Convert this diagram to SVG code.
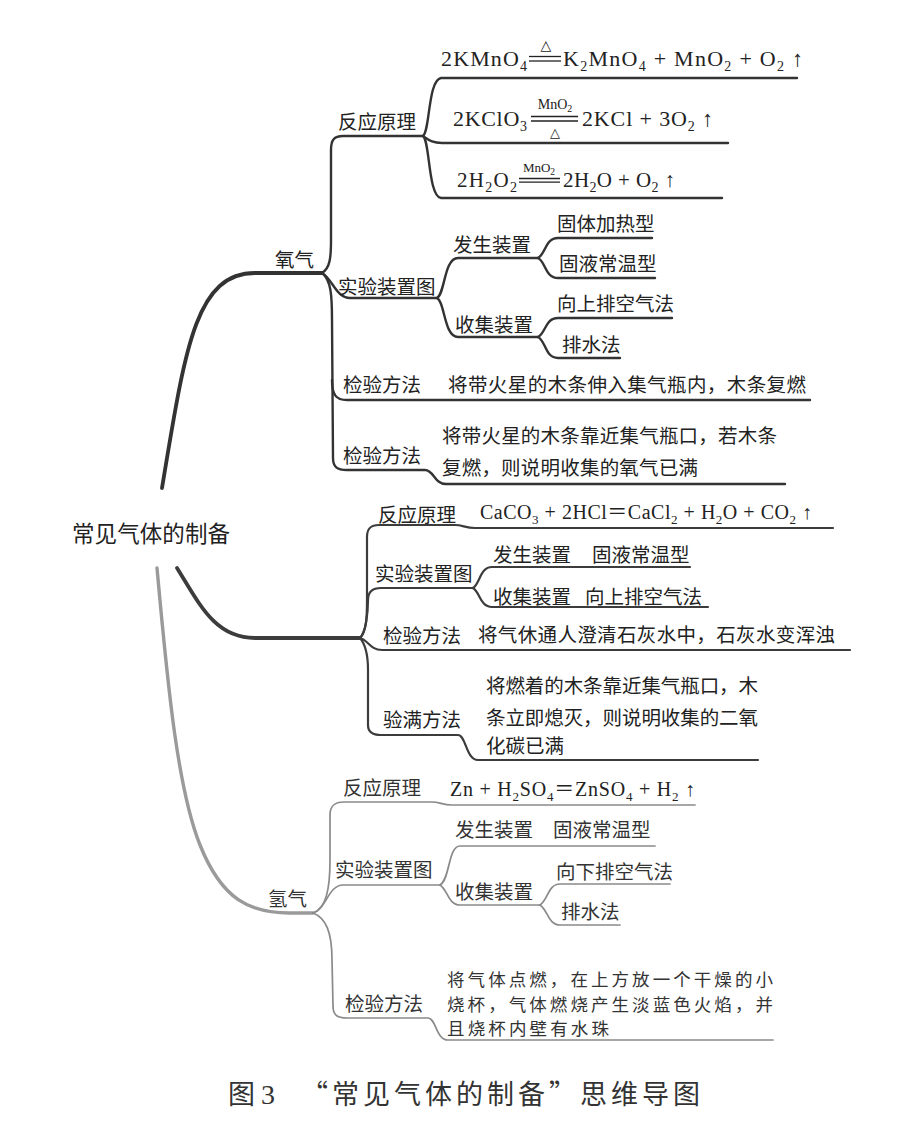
<svg xmlns="http://www.w3.org/2000/svg" width="906" height="1127" viewBox="0 0 906 1127">
<style>
.o{stroke:#333;stroke-width:2.4;fill:none;stroke-linecap:round}
.om{stroke:#333;stroke-width:3.8;fill:none;stroke-linecap:round}
.c{stroke:#3c3c3c;stroke-width:2.2;fill:none;stroke-linecap:round}
.cm{stroke:#3c3c3c;stroke-width:3.8;fill:none;stroke-linecap:round}
.h{stroke:#8a8a8a;stroke-width:1.7;fill:none;stroke-linecap:round}
.hm{stroke:#9a9a9a;stroke-width:3.4;fill:none;stroke-linecap:round}
.eq{stroke:#222;stroke-width:1.3}
.t{font-family:"Noto Sans CJK SC","Noto Sans CJK JP",sans-serif;font-size:19.5px;fill:#222}
.th{font-family:"Noto Sans CJK SC","Noto Sans CJK JP",sans-serif;font-size:19.5px;fill:#333}
.f{font-family:"Liberation Serif","Noto Sans CJK SC",serif;font-size:22px;fill:#222}
.s{font-size:14px}
.cond{font-family:"Liberation Serif","DejaVu Sans",serif;font-size:14px;fill:#222}
.tri{font-family:"DejaVu Sans",sans-serif;font-size:14px;fill:#222}
</style>
<rect width="906" height="1127" fill="#fff"/>

<g id="connectors">
  <!-- oxygen -->
  <path class="om" d="M162,488 C185,350 195,273 255,273 L322,273"/>
  <path class="o" d="M322,273 C330,268 331,258 331,240 L331,150 C331,140 334,136 343,136 L423,136"/>
  <path class="o" d="M423,136 C430,131 428,80 441,78 L797,78"/>
  <path class="o" d="M423,136 C429,140 432,143 442,143 L728,143"/>
  <path class="o" d="M423,136 C430,141 428,196 441,198 L722,198"/>
  <path class="o" d="M322,273 C332,278 336,298 350,298 L437,298"/>
  <path class="o" d="M437,298 C445,294 444,258 458,258 L538,258"/>
  <path class="o" d="M437,298 C445,302 444,337 458,337 L538,337"/>
  <path class="o" d="M538,258 C546,254 545,238 558,238 L652,238"/>
  <path class="o" d="M538,258 C546,262 545,278 558,278 L655,278"/>
  <path class="o" d="M538,337 C546,333 545,318 558,318 L672,318"/>
  <path class="o" d="M538,337 C546,341 545,358 558,358 L620,358"/>
  <path class="o" d="M322,273 C331,280 332,295 332,320 L333,458 C333,467 337,470 347,470 L425,470 C434,470 434,484 446,484 L785,484"/>
  <path class="o" d="M332,380 C332,395 336,400 347,400 L810,400"/>
  <!-- carbon dioxide -->
  <path class="cm" d="M177,568 C200,605 215,638 255,638 L360,638"/>
  <path class="c" d="M360,638 C366,632 367,620 367,600 L367,537 C367,529 370,525 379,525 L455,525 C463,525 465,528 475,528 L833,528"/>
  <path class="c" d="M360,638 C366,632 368,612 368,600 C368,592 372,588 381,588 L473,588"/>
  <path class="c" d="M473,588 C480,584 480,567 492,567 L690,567"/>
  <path class="c" d="M473,588 C480,592 480,607 492,607 L708,607"/>
  <path class="c" d="M360,638 C368,640 370,650 382,650 L850,650"/>
  <path class="c" d="M360,638 C366,645 368,655 368,670 L368,725 C368,732 372,735 381,735 L458,735 C466,735 466,760 478,760 L758,760"/>
  <!-- hydrogen -->
  <path class="hm" d="M157,568 C168,690 178,790 200,845 C222,900 250,913 290,913 L313,913"/>
  <path class="h" d="M313,913 C326,908 330,890 330,860 L330,815 C330,806 334,802 344,802 L432,802 C440,802 442,805 452,805 L695,805"/>
  <path class="h" d="M313,913 C326,910 328,885 343,885 L440,885"/>
  <path class="h" d="M440,885 C450,880 448,846 460,846 L655,846"/>
  <path class="h" d="M440,885 C448,890 448,905 460,905 L540,905"/>
  <path class="h" d="M540,905 C548,900 548,884 560,884 L670,884"/>
  <path class="h" d="M540,905 C548,910 548,925 560,925 L620,925"/>
  <path class="h" d="M313,913 C326,918 332,932 332,960 L333,1006 C333,1015 337,1018 347,1018 L428,1018 C436,1018 436,1040 448,1040 L773,1040"/>
</g>

<g id="root"><text class="t" x="72" y="542" style="font-size:22.5px" textLength="158">常见气体的制备</text></g>

<g id="o2"><text class="t" x="275" y="267">氧气</text></g>
<g id="o2-principle"><text class="t" x="338" y="129">反应原理</text></g>
<g id="o2-eq1">
  <text class="f" x="441" y="66" textLength="86">2KMnO<tspan class="s" dy="5">4</tspan></text>
  <line class="eq" x1="529" y1="56.5" x2="561" y2="56.5"/>
  <line class="eq" x1="529" y1="61" x2="561" y2="61"/>
  <text class="tri" x="546" y="50" text-anchor="middle">△</text>
  <text class="f" x="563" y="66" textLength="240">K<tspan class="s" dy="5">2</tspan><tspan dy="-5">MnO</tspan><tspan class="s" dy="5">4</tspan><tspan dy="-5"> + MnO</tspan><tspan class="s" dy="5">2</tspan><tspan dy="-5"> + O</tspan><tspan class="s" dy="5">2</tspan><tspan dy="-5"> ↑</tspan></text>
</g>
<g id="o2-eq2">
  <text class="f" x="453" y="126" textLength="74">2KClO<tspan class="s" dy="5">3</tspan></text>
  <line class="eq" x1="531" y1="116.5" x2="578" y2="116.5"/>
  <line class="eq" x1="531" y1="121" x2="578" y2="121"/>
  <text class="cond" x="555" y="109" text-anchor="middle">MnO<tspan style="font-size:10px" dy="3">2</tspan></text>
  <text class="tri" x="555" y="137" text-anchor="middle" style="font-size:13px">△</text>
  <text class="f" x="582" y="126" textLength="131">2KCl + 3O<tspan class="s" dy="5">2</tspan><tspan dy="-5"> ↑</tspan></text>
</g>
<g id="o2-eq3">
  <text class="f" x="457" y="187" style="font-size:21px" textLength="60">2H<tspan class="s" dy="5">2</tspan><tspan dy="-5">O</tspan><tspan class="s" dy="5">2</tspan></text>
  <line class="eq" x1="519" y1="178.5" x2="560" y2="178.5"/>
  <line class="eq" x1="519" y1="182.2" x2="560" y2="182.2"/>
  <text class="cond" x="539" y="172" text-anchor="middle" style="font-size:13px">MnO<tspan style="font-size:9.5px" dy="2.5">2</tspan></text>
  <text class="f" x="563" y="187" style="font-size:21px" textLength="112">2H<tspan class="s" dy="5">2</tspan><tspan dy="-5">O + O</tspan><tspan class="s" dy="5">2</tspan><tspan dy="-5"> ↑</tspan></text>
</g>
<g id="o2-apparatus"><text class="t" x="338" y="294">实验装置图</text></g>
<g id="o2-gen"><text class="t" x="453" y="252">发生装置</text></g>
<g id="o2-gen-1"><text class="t" x="557" y="231">固体加热型</text></g>
<g id="o2-gen-2"><text class="t" x="559" y="271">固液常温型</text></g>
<g id="o2-col"><text class="t" x="455" y="332">收集装置</text></g>
<g id="o2-col-1"><text class="t" x="557" y="311">向上排空气法</text></g>
<g id="o2-col-2"><text class="t" x="562" y="352">排水法</text></g>
<g id="o2-test"><text class="t" x="343" y="392">检验方法</text><text class="t" x="448" y="392" textLength="358">将带火星的木条伸入集气瓶内，木条复燃</text></g>
<g id="o2-full"><text class="t" x="343" y="463">检验方法</text>
  <text class="t" x="442" y="443" textLength="335">将带火星的木条靠近集气瓶口，若木条</text>
  <text class="t" x="442" y="475" textLength="256">复燃，则说明收集的氧气已满</text></g>

<g id="co2-principle"><text class="t" x="378" y="522">反应原理</text>
  <text class="f" x="480" y="519" style="font-size:20px" textLength="332">CaCO<tspan style="font-size:13px" dy="5">3</tspan><tspan dy="-5"> + 2HCl＝CaCl</tspan><tspan style="font-size:13px" dy="5">2</tspan><tspan dy="-5"> + H</tspan><tspan style="font-size:13px" dy="5">2</tspan><tspan dy="-5">O + CO</tspan><tspan style="font-size:13px" dy="5">2</tspan><tspan dy="-5"> ↑</tspan></text></g>
<g id="co2-apparatus"><text class="t" x="375" y="581">实验装置图</text></g>
<g id="co2-gen"><text class="t" x="493" y="562">发生装置</text><text class="t" x="592" y="562">固液常温型</text></g>
<g id="co2-col"><text class="t" x="493" y="604">收集装置</text><text class="t" x="585" y="604">向上排空气法</text></g>
<g id="co2-test"><text class="t" x="383" y="643">检验方法</text><text class="t" x="478" y="642" textLength="357">将气休通人澄清石灰水中，石灰水变浑浊</text></g>
<g id="co2-full"><text class="t" x="383" y="727">验满方法</text>
  <text class="t" x="486" y="693" textLength="272">将燃着的木条靠近集气瓶口，木</text>
  <text class="t" x="486" y="725" textLength="272">条立即熄灭，则说明收集的二氧</text>
  <text class="t" x="486" y="753">化碳已满</text></g>

<g id="h2"><text class="th" x="268" y="906">氢气</text></g>
<g id="h2-principle"><text class="th" x="343" y="795">反应原理</text>
  <text class="f" x="450" y="796" style="font-size:20px" textLength="245">Zn + H<tspan style="font-size:13px" dy="5">2</tspan><tspan dy="-5">SO</tspan><tspan style="font-size:13px" dy="5">4</tspan><tspan dy="-5">＝ZnSO</tspan><tspan style="font-size:13px" dy="5">4</tspan><tspan dy="-5"> + H</tspan><tspan style="font-size:13px" dy="5">2</tspan><tspan dy="-5"> ↑</tspan></text></g>
<g id="h2-apparatus"><text class="th" x="335" y="877">实验装置图</text></g>
<g id="h2-gen"><text class="th" x="455" y="837">发生装置</text><text class="th" x="553" y="837">固液常温型</text></g>
<g id="h2-col"><text class="th" x="455" y="899">收集装置</text></g>
<g id="h2-col-1"><text class="th" x="556" y="879">向下排空气法</text></g>
<g id="h2-col-2"><text class="th" x="561" y="919">排水法</text></g>
<g id="h2-test"><text class="th" x="345" y="1011">检验方法</text>
  <text class="th" x="447" y="986" style="font-size:17.5px" textLength="326">将气体点燃，在上方放一个干燥的小</text>
  <text class="th" x="447" y="1010.5" style="font-size:17.5px" textLength="326">烧杯，气体燃烧产生淡蓝色火焰，并</text>
  <text class="th" x="447" y="1035" style="font-size:17.5px" textLength="162">且烧杯内壁有水珠</text></g>

<g id="caption">
  <text class="t" x="228" y="1104" style="font-size:27px;fill:#333">图</text>
  <text x="261" y="1104" font-family="Liberation Serif,serif" font-size="28" fill="#333">3</text>
  <text class="t" x="301" y="1104" style="font-size:27px;fill:#333" textLength="399">“常见气体的制备”思维导图</text>
</g>
</svg>
